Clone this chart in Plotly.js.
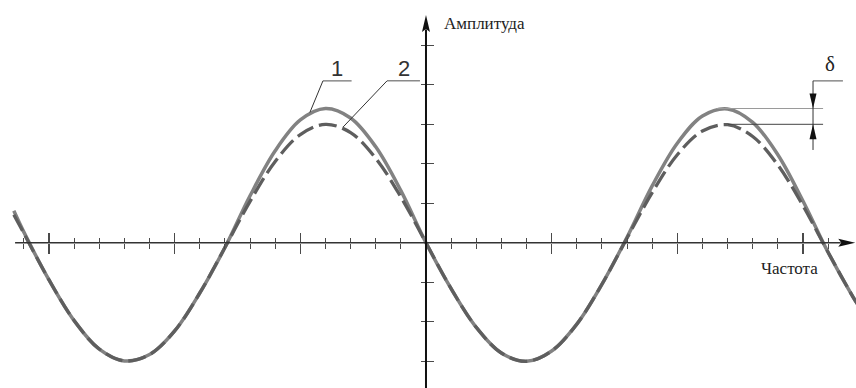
<!DOCTYPE html>
<html>
<head>
<meta charset="utf-8">
<script src="https://cdn.plot.ly/plotly-3.0.1.min.js"></script>
<style>
  html, body { margin: 0; padding: 0; background: #ffffff; }
  #chart { width: 856px; height: 388px; }
</style>
</head>
<body>
<div id="chart"></div>
<script>
// Frequency positions, in axis tick units (origin at the amplitude axis)
const freq = [-16.4, -16, -15, -14, -13, -12, -11, -10, -9, -8, -7, -6, -5, -4, -3, -2, -1,
              0, 1, 2, 3, 4, 5, 6, 7, 8, 9, 10, 11, 12, 13, 14, 15, 16, 17, 17.2];

// Curve 1 (solid): taller positive half-waves
const curve1 = [0.81, 0.27, -0.94, -1.97, -2.69, -2.99, -2.83, -2.23, -1.27, -0.12, 1.19, 2.33, 3.11, 3.40, 3.16, 2.43, 1.32,
                0, -1.16, -2.14, -2.79, -3.00, -2.74, -2.06, -1.05, 0.14, 1.44, 2.52, 3.21, 3.39, 3.05, 2.23, 1.06, -0.24, -1.38, -1.58];

// Curve 2 (dashed): symmetric half-waves
const curve2 = [0.71, 0.24, -0.94, -1.97, -2.69, -2.99, -2.83, -2.23, -1.27, -0.12, 1.05, 2.06, 2.74, 3.00, 2.79, 2.14, 1.16,
                0, -1.16, -2.14, -2.79, -3.00, -2.74, -2.06, -1.05, 0.12, 1.27, 2.23, 2.83, 2.99, 2.69, 1.97, 0.94, -0.24, -1.38, -1.58];

// Axis tick marks
const majorTicksX = [-15, -10, -5, 5, 10, 15];
const minorTicksX = [-16, -14, -13, -12, -11, -9, -8, -7, -6, -4, -3, -2, -1,
                     1, 2, 3, 4, 6, 7, 8, 9, 11, 12, 13, 14, 16];
const ticksY = [-3, -2, -1, 1, 2, 3, 4, 5];

// Labels
const labelY = 'Амплитуда';
const labelX = 'Частота';
const labelCurve1 = '1';
const labelCurve2 = '2';
const labelDelta = 'δ';

const xRange = [-16.95, 17.11];
const yRange = [-3.676, 6.147];

const peak1 = Math.max(...curve1);
const peak2 = Math.max(...curve2);

// Where the two axes cross, as fractions of the plotting area
const xAxisPos = (0 - yRange[0]) / (yRange[1] - yRange[0]);
const yAxisPos = (0 - xRange[0]) / (xRange[1] - xRange[0]);

const tickColor = '#4a4a4a';

const traces = [
  {
    x: freq, y: curve1, xaxis: 'x', yaxis: 'y',
    type: 'scatter', mode: 'lines',
    line: { color: '#828282', width: 3.5, shape: 'spline', smoothing: 1 },
    hoverinfo: 'skip'
  },
  {
    x: freq, y: curve2, xaxis: 'x2', yaxis: 'y2',
    type: 'scatter', mode: 'lines',
    line: { color: '#5e5e5e', width: 3.3, shape: 'spline', smoothing: 1, dash: '18px,6px' },
    hoverinfo: 'skip'
  }
];

const xBase = {
  range: xRange, domain: [0, 1], anchor: 'free', position: xAxisPos,
  showgrid: false, zeroline: false, showline: false, showticklabels: false,
  tickmode: 'array', tickvals: majorTicksX, ticks: 'outside',
  ticklen: 10, tickwidth: 1.2, tickcolor: tickColor,
  minor: { tickmode: 'array', tickvals: minorTicksX, ticks: 'outside',
           ticklen: 5, tickwidth: 1, tickcolor: tickColor, showgrid: false },
  fixedrange: true
};
const yBase = {
  range: yRange, domain: [0, 1], anchor: 'free', position: yAxisPos,
  showgrid: false, zeroline: false, showline: false, showticklabels: false,
  tickmode: 'array', tickvals: ticksY, ticks: 'outside',
  tickwidth: 1, tickcolor: tickColor, fixedrange: true
};

// Arrowhead outlines in pixels around their tip
const headRight = 'M0,0 L-17,4 L-14,0 L-17,-4 Z';
const headUp = 'M0,0 L-4,-17 L0,-14 L4,-17 Z';
const deltaDown = 'M0,0 L-3.5,15 L3.5,15 Z';
const deltaUp = 'M0,0 L-3.5,-15 L3.5,-15 Z';

function seg(x0, y0, x1, y1, color, width) {
  return { type: 'line', xref: 'x', yref: 'y', x0: x0, y0: y0, x1: x1, y1: y1,
           line: { color: color, width: width } };
}
function head(x, y, path, color) {
  return { type: 'path', xref: 'x', yref: 'y', xsizemode: 'pixel', ysizemode: 'pixel',
           xanchor: x, yanchor: y, path: path, fillcolor: color, line: { width: 0 } };
}

const deltaX = 15.40;
const shapes = [
  // axes
  seg(-16.35, 0, 16.5, 0, '#333333', 1.6),
  seg(0, yRange[0] - 0.1, 0, 5.4, '#111111', 2),
  head(17.08, 0, headRight, '#111111'),
  head(0, 5.77, headUp, '#111111'),
  // leader for curve 1
  seg(-4.10, 4.10, -2.96, 4.10, '#8a8a8a', 1.5),
  seg(-4.10, 4.10, -4.62, 3.30, '#333333', 1),
  // leader for curve 2
  seg(-1.55, 4.10, -0.24, 4.10, '#8a8a8a', 1.5),
  seg(-1.55, 4.10, -3.30, 2.93, '#333333', 1),
  // δ dimension
  seg(11.58, peak1, 15.80, peak1, '#9a9a9a', 1.2),
  seg(12.02, peak2, 15.80, peak2, '#444444', 1),
  seg(deltaX, 4.10, 16.59, 4.10, '#8a8a8a', 1.5),
  seg(deltaX, 4.10, deltaX, 2.35, '#333333', 1),
  head(deltaX, peak1, deltaDown, '#111111'),
  head(deltaX, peak2, deltaUp, '#111111')
];

const serif = '"Liberation Serif", "Times New Roman", serif';
const sans = '"Liberation Sans", Arial, sans-serif';
function label(text, x, y, xanchor, font) {
  return { text: text, x: x, y: y, xref: 'x', yref: 'y', xanchor: xanchor, yanchor: 'middle',
           showarrow: false, font: font };
}

const annotations = [
  label(labelY, 0.62, 5.56, 'left', { family: serif, size: 17, color: '#222222' }),
  label(labelX, 13.27, -0.64, 'left', { family: serif, size: 17, color: '#222222' }),
  label(labelCurve1, -3.54, 4.41, 'center', { family: sans, size: 22, color: '#333333' }),
  label(labelCurve2, -0.88, 4.42, 'center', { family: sans, size: 22, color: '#333333' }),
  label(labelDelta, 16.08, 4.52, 'center', { family: serif, size: 21, color: '#222222' })
];

const layout = {
  width: 856, height: 388,
  margin: { l: 0, r: 0, t: 0, b: 0, pad: 0 },
  paper_bgcolor: '#ffffff', plot_bgcolor: '#ffffff',
  showlegend: false,
  xaxis: Object.assign({}, xBase, { side: 'bottom' }),
  xaxis2: Object.assign({}, xBase, { side: 'top', overlaying: 'x' }),
  yaxis: Object.assign({}, yBase, { side: 'left', ticklen: 5 }),
  yaxis2: Object.assign({}, yBase, { side: 'right', overlaying: 'y', ticklen: 7 }),
  shapes: shapes,
  annotations: annotations
};

Plotly.newPlot('chart', traces, layout, { displayModeBar: false, staticPlot: true });
</script>
</body>
</html>
